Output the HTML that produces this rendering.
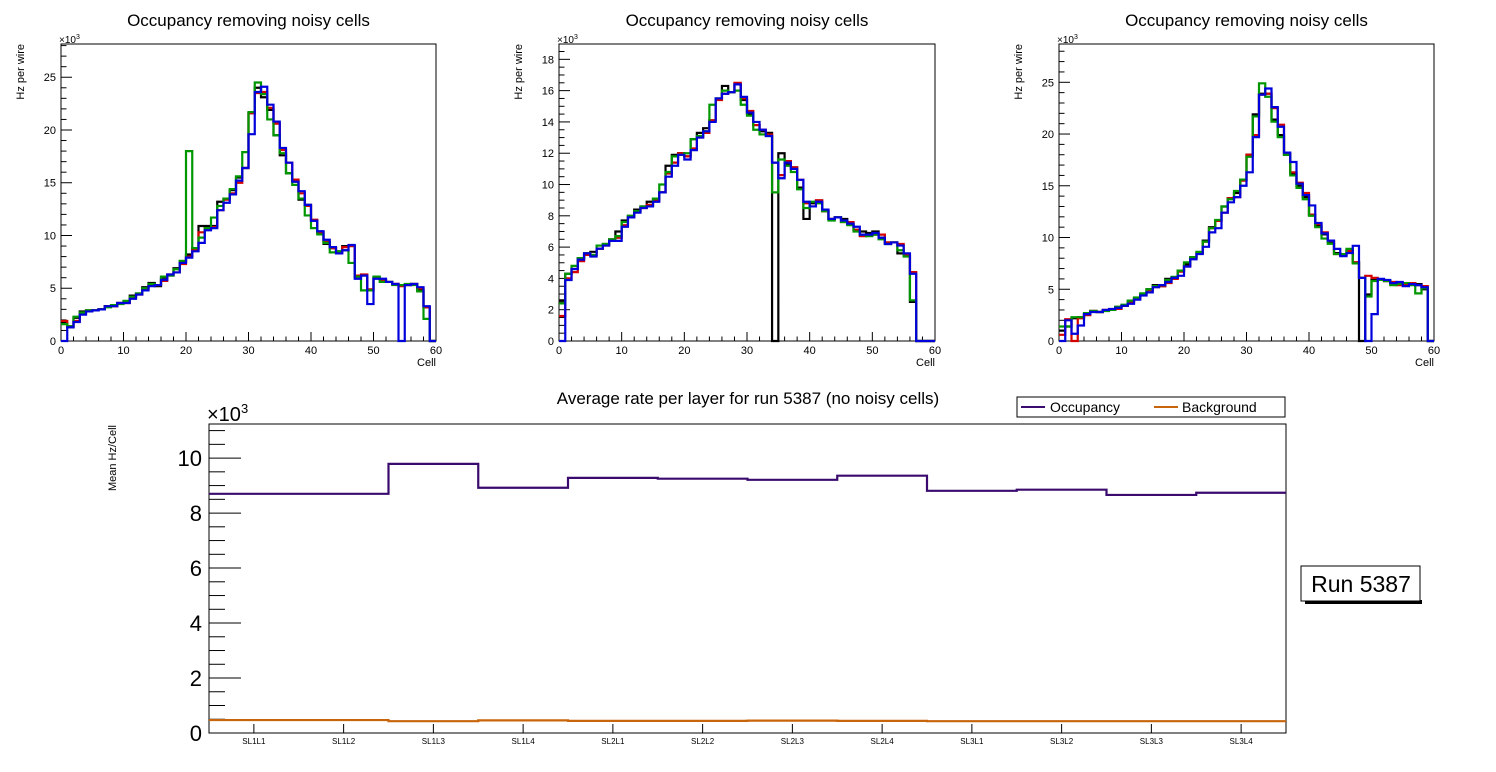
<!DOCTYPE html>
<html><head><meta charset="utf-8"><style>
body{margin:0;background:#fff;}
svg{display:block;font-family:"Liberation Sans",sans-serif;}
</style></head><body>
<svg id="c" width="1496" height="772" viewBox="0 0 1496 772"></svg>
<script>
const cells=Array.from({length:60},(_,i)=>i);
const black1=[1.7,1.3,2.2,2.8,2.9,2.9,3.0,3.3,3.3,3.6,3.7,4.3,4.5,5.1,5.5,5.2,6.0,6.2,6.9,7.5,8.2,8.8,10.9,10.9,10.9,13.2,13.5,14.3,15.5,16.4,21.6,24.0,23.1,21.9,19.5,17.6,15.9,15.1,13.4,12.9,11.4,10.3,9.2,8.8,8.5,9.0,9.0,6.1,6.2,4.8,6.0,5.8,5.6,5.4,5.3,5.3,5.4,4.8,3.2,0];
const red1=[1.9,1.4,1.9,2.6,2.8,2.9,3.0,3.3,3.3,3.6,3.6,4.1,4.4,4.9,5.3,5.3,5.7,6.3,6.5,7.3,8.0,8.6,10.3,10.7,10.8,12.4,13.4,14.0,15.0,16.4,21.6,23.5,23.6,22.1,20.6,18.1,16.9,15.3,14.0,12.8,11.5,10.3,9.4,8.8,8.4,8.9,9.0,6.2,6.3,4.9,6.0,5.8,5.6,5.4,5.2,5.3,5.4,5.0,3.2,0];
const green1=[1.6,1.4,2.3,2.7,2.9,2.9,3.0,3.2,3.4,3.5,3.8,4.2,4.5,5.0,5.4,5.3,6.1,6.2,6.8,7.6,18.0,8.8,9.8,10.7,11.7,12.8,13.5,14.4,15.6,17.9,21.7,24.5,23.4,21.0,19.5,17.8,15.9,14.8,13.5,11.9,10.7,10.1,9.3,8.4,8.5,8.6,7.4,6.1,4.8,4.8,6.1,5.6,5.6,5.3,5.3,5.4,5.3,4.7,2.1,0];
const blue1=[0,1.3,1.8,2.5,2.8,2.9,3.0,3.3,3.3,3.6,3.6,4.0,4.4,4.8,5.2,5.3,5.8,6.3,6.5,7.4,7.9,8.5,9.3,10.5,10.7,12.4,13.1,13.9,15.2,16.4,19.6,23.6,24.1,22.4,20.8,18.3,16.9,15.1,14.2,12.9,11.4,10.4,9.6,8.9,8.3,8.6,9.1,5.9,6.2,3.5,5.9,5.9,5.6,5.4,0,5.3,5.4,5.1,3.3,0];
const black2=[2.6,4.3,4.6,5.3,5.6,5.7,5.9,6.2,6.5,7.0,7.7,8.0,8.4,8.6,8.9,9.1,9.5,11.2,11.9,12.0,11.8,12.9,13.3,13.6,14.1,15.5,16.3,15.9,16.4,15.4,14.5,13.8,13.4,13.3,0,12.0,11.3,11.1,9.8,7.8,8.8,8.9,8.3,7.8,7.9,7.8,7.5,7.1,7.0,6.9,7.0,6.6,6.3,6.3,5.6,5.5,2.5,0,0,0];
const red2=[1.6,4.0,4.4,5.1,5.5,5.5,5.9,6.1,6.4,6.6,7.4,7.9,8.3,8.5,8.7,9.0,9.5,10.7,11.4,12.0,11.8,12.3,13.0,13.3,14.1,15.4,15.8,15.9,16.5,15.5,14.7,13.8,13.5,13.2,11.4,10.6,11.5,11.1,10.3,8.8,8.6,9.0,8.3,7.8,7.9,7.6,7.6,7.1,6.7,6.8,6.8,6.8,6.3,6.3,6.2,5.5,4.4,0,0,0];
const green2=[2.4,4.3,4.8,5.3,5.6,5.5,6.1,6.2,6.5,6.7,7.6,8.0,8.3,8.6,8.6,9.1,10.0,10.8,11.8,11.9,12.0,12.9,13.1,13.4,15.1,15.5,16.0,15.9,16.0,15.1,14.4,13.5,13.2,13.1,9.5,11.6,11.2,10.8,9.7,8.5,8.9,8.8,8.3,7.7,7.9,7.6,7.4,7.0,6.8,6.7,6.8,6.5,6.2,6.3,5.8,5.4,2.6,0,0,0];
const blue2=[0,3.9,4.6,5.2,5.6,5.4,5.9,6.1,6.4,6.4,7.3,7.9,8.2,8.5,8.6,8.9,9.5,10.5,11.2,11.9,11.6,12.2,13.0,13.4,14.0,15.5,15.8,15.9,16.4,15.6,14.6,14.0,13.5,13.1,11.4,10.4,11.4,11.0,10.3,8.9,8.6,8.9,8.4,7.8,7.9,7.7,7.5,7.3,6.8,6.8,6.9,6.6,6.2,6.3,6.1,5.6,4.3,0,0,0];
const black3=[1.0,1.4,2.2,2.3,2.6,2.9,2.8,3.0,3.0,3.3,3.4,3.8,4.1,4.5,5.0,5.4,5.3,6.0,6.1,6.8,7.4,8.1,8.6,9.7,11.0,11.6,13.0,13.8,14.3,15.6,18.0,21.9,23.9,23.9,21.4,19.9,18.0,16.2,15.0,13.9,12.2,11.1,10.3,9.6,8.5,8.3,8.8,7.6,0,4.5,5.9,5.9,5.8,5.6,5.5,5.5,5.6,5.5,5.0,0];
const red3=[0.6,2.1,0,2.2,2.5,2.9,2.8,3.0,3.0,3.1,3.4,3.7,4.1,4.5,4.9,5.2,5.3,5.6,6.0,6.7,7.2,8.0,8.5,9.6,10.9,11.6,12.4,13.8,13.9,15.5,18.0,19.9,23.8,23.9,22.5,20.9,18.1,16.3,15.3,14.3,12.2,11.3,10.5,9.7,8.4,8.3,8.7,7.6,6.1,6.3,6.1,5.9,5.8,5.7,5.4,5.5,5.6,5.4,5.3,0];
const green3=[1.4,1.4,2.3,2.3,2.7,2.9,2.8,2.9,3.0,3.3,3.5,3.9,4.2,4.6,5.0,5.3,5.4,5.9,6.2,6.8,7.6,8.1,8.6,9.6,10.9,11.7,13.0,13.7,14.5,15.6,17.8,21.7,24.9,23.6,21.2,19.7,18.0,16.0,14.8,13.7,12.1,11.0,9.9,9.4,8.4,8.4,8.9,7.5,6.1,4.3,5.8,5.9,5.8,5.4,5.5,5.6,5.4,4.6,5.1,0];
const blue3=[0,2.0,0.7,1.5,2.6,2.8,2.8,3.0,3.1,3.2,3.4,3.6,4.0,4.4,4.7,5.2,5.4,5.7,6.1,6.3,7.2,7.9,8.4,9.1,10.5,10.9,12.4,13.4,13.9,15.0,16.3,19.7,23.8,24.4,22.6,20.7,18.2,17.3,15.2,14.1,13.1,11.4,10.4,9.7,8.9,8.2,8.5,9.2,6.1,0,2.6,6.0,5.9,5.6,5.7,5.3,5.5,5.4,5.2,0];
const layers=["SL1L1","SL1L2","SL1L3","SL1L4","SL2L1","SL2L2","SL2L3","SL2L4","SL3L1","SL3L2","SL3L3","SL3L4"];
const occupancy=[8.70,8.70,9.79,8.92,9.28,9.25,9.21,9.36,8.81,8.85,8.66,8.74];
const background=[0.47,0.47,0.43,0.46,0.44,0.44,0.45,0.44,0.43,0.43,0.43,0.43];
const xTicks1=[0,10,20,30,40,50,60];

const S=document.getElementById('c');
const NS='http://www.w3.org/2000/svg';
function mk(tag,attrs,parent){const e=document.createElementNS(NS,tag);for(const k in attrs)e.setAttribute(k,attrs[k]);(parent||S).appendChild(e);return e;}
function txt(s,attrs,parent){const e=mk('text',attrs,parent);e.textContent=s;return e;}

function stepPath(vals,xs,ys,nb){let d='',py=ys(0);for(let i=0;i<nb;i++){const xa=xs(i),xb=xs(i+1),y=ys(vals[i]);if(i===0)d+='M'+xa+','+y;else d+='L'+xa+','+y;d+='L'+xb+','+y;}return d;}

function panel(cfg){
  const g=mk('g',{});
  
  
  const {x0,x1,y0,y1,ymax,major,minor}=cfg;
  const xs=v=>x0+(x1-x0)*v/60, ys=v=>y1-(y1-y0)*v/ymax;
  const t=txt('Occupancy removing noisy cells',{x:(x0+x1)/2,y:26,'text-anchor':'middle','font-size':17},g);
  
  const fr=mk('rect',{x:x0,y:y0,width:x1-x0,height:y1-y0,fill:'none',stroke:'#000','stroke-width':1},g);
  
  for(let v=0;v<=60;v+=2){const L=v%10===0?9:4.5;mk('line',{x1:xs(v),x2:xs(v),y1:y1,y2:y1-L,stroke:'#000'},g);}
  xTicks1.forEach(v=>{const l=txt(String(v),{x:xs(v),y:354,'text-anchor':'middle','font-size':11},g);});
  for(let v=0;v<=ymax+1e-9;v+=minor){const isM=Math.abs(v/major-Math.round(v/major))<1e-6;mk('line',{x1:x0,x2:x0+(isM?11:5.5),y1:ys(v),y2:ys(v),stroke:'#000'},g);
    if(isM){const l=txt(String(Math.round(v)),{x:x0-5,y:ys(v)+4,'text-anchor':'end','font-size':11},g);}}
  const e=txt('×10',{x:x0-2,y:43,'font-size':10},g);mk('tspan',{dy:-4,'font-size':7},e).textContent='3';
  
  const yl=txt('Hz per wire',{x:0,y:0,'font-size':11,'text-anchor':'end',transform:`translate(${x0-37},44) rotate(-90)`},g);
  
  const xl=txt('Cell',{x:x1,y:366,'text-anchor':'end','font-size':11},g);
  
  const cols=['#000','#d40000','#009600','#0000dc'];
  const names=['series-black','series-red','series-green','series-blue'];
  cfg.series.forEach((vals,k)=>{const p=mk('path',{d:stepPath(vals,xs,ys,cells.length),fill:'none',stroke:cols[k],'stroke-width':2.2},g);
    });
}
panel({name:'panel-1',x0:61,x1:436,y0:44,y1:341,ymax:28.15,major:5,minor:1,series:[black1,red1,green1,blue1]});
panel({name:'panel-2',x0:559,x1:935,y0:44,y1:341,ymax:18.98,major:2,minor:0.5,series:[black2,red2,green2,blue2]});
panel({name:'panel-3',x0:1059,x1:1434,y0:44,y1:341,ymax:28.7,major:5,minor:1,series:[black3,red3,green3,blue3]});

// bottom chart
(function(){
  const g=mk('g',{});
  
  
  const x0=209,x1=1286,y0=424,y1=733,ymax=11.24,n=layers.length;
  const xs=i=>x0+(x1-x0)*i/n, ys=v=>y1-(y1-y0)*v/ymax;
  const t=txt('Average rate per layer for run 5387 (no noisy cells)',{x:748,y:404,'text-anchor':'middle','font-size':17},g);
  
  const fr=mk('rect',{x:x0,y:y0,width:x1-x0,height:y1-y0,fill:'none',stroke:'#000'},g);
  
  for(let v=0;v<=ymax;v+=0.5){const isM=Math.abs(v/2-Math.round(v/2))<1e-6;mk('line',{x1:x0,x2:x0+(isM?32:16),y1:ys(v),y2:ys(v),stroke:'#000'},g);
    if(isM){const l=txt(String(Math.round(v)),{x:x0-7,y:ys(v)+8,'text-anchor':'end','font-size':22},g);}}
  const e=txt('×10',{x:x0-2,y:421,'font-size':20},g);mk('tspan',{dy:-8,'font-size':13},e).textContent='3';
  
  const yl=txt('Mean Hz/Cell',{x:0,y:0,'font-size':11,'text-anchor':'end',transform:'translate(116,425) rotate(-90)'},g);
  
  layers.forEach((s,i)=>{const cx=xs(i+0.5);mk('line',{x1:cx,x2:cx,y1:y1,y2:y1-9,stroke:'#000'},g);
    const l=txt(s,{x:cx,y:744,'text-anchor':'middle','font-size':8},g);});
  const po=mk('path',{d:stepPath(occupancy,xs,ys,n),fill:'none',stroke:'#3a0a6e','stroke-width':2.2},g);
  
  const pb=mk('path',{d:stepPath(background,xs,ys,n),fill:'none',stroke:'#c8640a','stroke-width':2.2},g);
  
})();
</script>
<svg style="position:absolute;left:0;top:0" width="1496" height="772">
  <g font-family="Liberation Sans, sans-serif">
    <rect x="1017" y="397" width="268" height="20" fill="#fff" stroke="#000"/>
    <line x1="1021" x2="1045" y1="407" y2="407" stroke="#3a0a6e" stroke-width="2"/>
    <text x="1050" y="412" font-size="14">Occupancy</text>
    <line x1="1154" x2="1178" y1="407" y2="407" stroke="#c8640a" stroke-width="2"/>
    <text x="1182" y="412" font-size="14">Background</text>
  </g>
  <g font-family="Liberation Sans, sans-serif">
    <rect x="1305" y="600" width="117" height="4" fill="#000"/>
    <rect x="1301" y="566" width="119" height="35" fill="#fff" stroke="#000"/>
    <text x="1361" y="592" font-size="23" text-anchor="middle">Run 5387</text>
  </g>
</svg>
</body></html>
